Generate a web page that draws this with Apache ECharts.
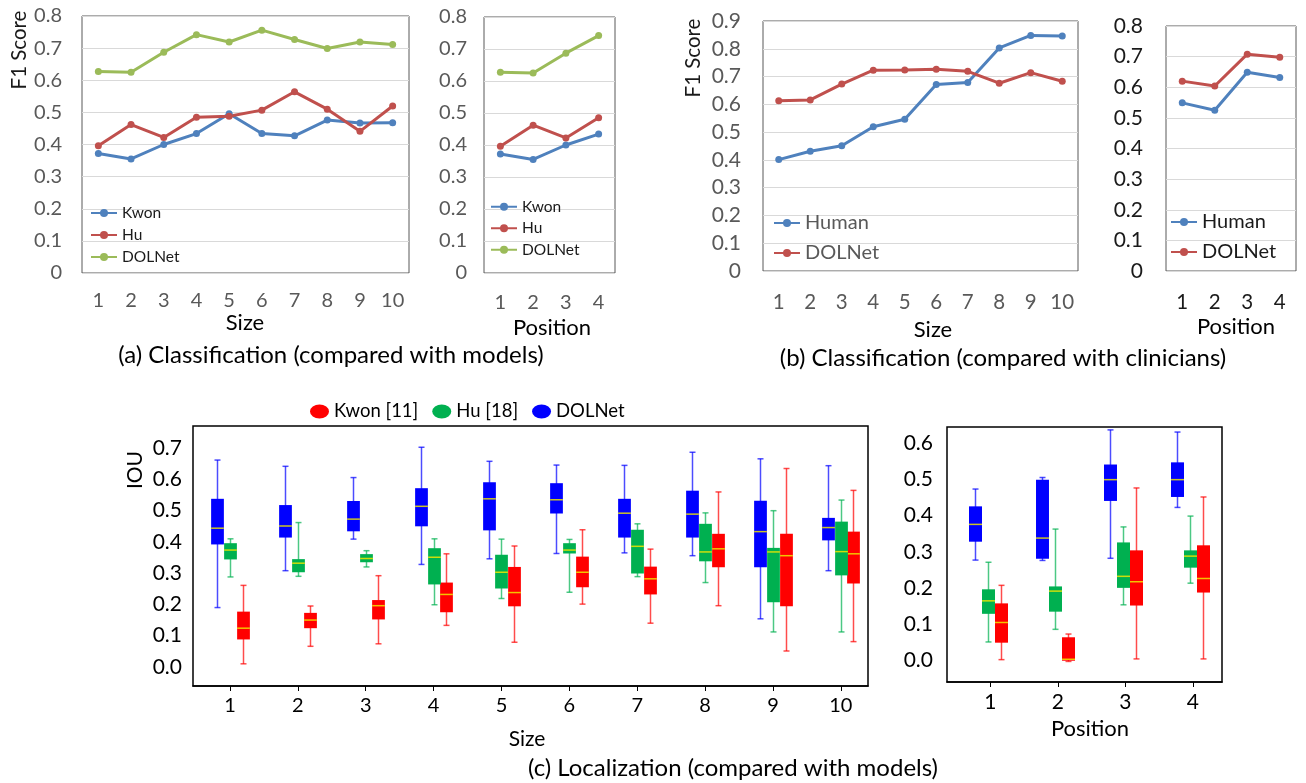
<!DOCTYPE html>
<html>
<head>
<meta charset="utf-8">
<script src="https://cdn.jsdelivr.net/npm/echarts@6/dist/echarts.min.js"></script>
<style>
html,body{margin:0;padding:0;background:#fff;}
#chart{width:1306px;height:783px;}
</style>
</head>
<body>
<div id="chart"></div>
<script>
// ---------- DATA ----------
const sizeCats = ['1','2','3','4','5','6','7','8','9','10'];
const posCats = ['1','2','3','4'];

// (a) Classification vs models - F1
const aSizeKwon   = [0.372,0.355,0.400,0.434,0.496,0.434,0.427,0.476,0.467,0.468];
const aSizeHu     = [0.396,0.462,0.422,0.485,0.488,0.507,0.564,0.510,0.441,0.520];
const aSizeDOLNet = [0.627,0.625,0.687,0.742,0.719,0.756,0.727,0.699,0.719,0.711];
const aPosKwon    = [0.372,0.355,0.400,0.434];
const aPosHu      = [0.396,0.462,0.422,0.485];
const aPosDOLNet  = [0.627,0.625,0.687,0.742];

// (b) Classification vs clinicians - F1
const bSizeHuman  = [0.401,0.431,0.451,0.519,0.546,0.671,0.679,0.803,0.848,0.846];
const bSizeDOLNet = [0.613,0.616,0.673,0.723,0.724,0.726,0.719,0.676,0.714,0.683];
const bPosHuman   = [0.549,0.525,0.649,0.632];
const bPosDOLNet  = [0.620,0.604,0.708,0.698];

// (c) Localization IOU boxes: [lowWhisker, q1, median, q3, highWhisker]
const cSizeDOLNet = [
  [0.190,0.392,0.444,0.538,0.662],[0.308,0.414,0.451,0.518,0.642],[0.409,0.434,0.473,0.531,0.606],
  [0.328,0.450,0.514,0.572,0.703],[0.346,0.437,0.538,0.591,0.658],[0.363,0.491,0.535,0.588,0.646],
  [0.365,0.414,0.492,0.538,0.645],[0.356,0.414,0.489,0.564,0.687],[0.154,0.319,0.433,0.532,0.666],
  [0.308,0.405,0.446,0.477,0.644]];
const cSizeHu = [
  [0.288,0.344,0.374,0.396,0.410],[0.290,0.303,0.332,0.345,0.462],[0.320,0.335,0.347,0.361,0.372],
  [0.199,0.264,0.351,0.380,0.410],[0.219,0.251,0.303,0.359,0.409],[0.239,0.363,0.374,0.396,0.408],
  [0.289,0.299,0.386,0.439,0.458],[0.270,0.338,0.368,0.458,0.493],[0.112,0.207,0.368,0.381,0.500],
  [0.112,0.293,0.369,0.465,0.534]];
const cSizeKwon = [
  [0.010,0.088,0.124,0.177,0.261],[0.066,0.124,0.150,0.173,0.195],[0.074,0.152,0.196,0.214,0.292],
  [0.133,0.175,0.232,0.270,0.362],[0.079,0.194,0.238,0.320,0.387],[0.201,0.255,0.303,0.353,0.439],
  [0.140,0.232,0.282,0.321,0.377],[0.196,0.319,0.378,0.426,0.560],[0.051,0.194,0.356,0.426,0.635],
  [0.081,0.267,0.362,0.433,0.565]];
const cPosDOLNet = [
  [0.277,0.328,0.376,0.426,0.474],[0.276,0.281,0.338,0.500,0.506],
  [0.282,0.441,0.500,0.542,0.638],[0.423,0.452,0.500,0.548,0.632]];
const cPosHu = [
  [0.050,0.128,0.164,0.196,0.271],[0.085,0.134,0.191,0.204,0.363],
  [0.153,0.200,0.232,0.326,0.369],[0.213,0.256,0.288,0.304,0.399]];
const cPosKwon = [
  [0.001,0.048,0.104,0.157,0.207],[-0.004,-0.002,0.002,0.063,0.072],
  [0.003,0.151,0.217,0.304,0.477],[0.003,0.187,0.226,0.318,0.452]];

const iouTicksSize = [0,0.1,0.2,0.3,0.4,0.5,0.6,0.7];
const iouTicksPos = [0,0.1,0.2,0.3,0.4,0.5,0.6];
const sizeTickVals = [1,2,3,4,5,6,7,8,9,10];
const posTickVals = [1,2,3,4];

// ---------- STYLE ----------
const FONT = 'Lato';
const C_BLUE = '#4f81bd', C_RED = '#c0504d', C_GREEN = '#9bbb59';
const B_BLUE = '#0000ff', B_GREEN = '#00b050', B_RED = '#ff0000';

const chart = echarts.init(document.getElementById('chart'));

const strip = n => n.split('#')[0];

function lineSeries(name, data, color, idx) {
  return {
    type: 'line', name: name, data: data, xAxisIndex: idx, yAxisIndex: idx,
    symbol: 'circle', symbolSize: 7, color: color,
    lineStyle: {width: 3, color: color}, itemStyle: {color: color},
    animation: false
  };
}

function boxSeries(name, rows, color, idx, offset, width) {
  return {
    type: 'custom', name: name, xAxisIndex: idx, yAxisIndex: idx,
    itemStyle: {color: color}, animation: false,
    encode: {x: 0, y: [1,2,3,4,5]},
    data: rows.map((r, i) => [i + 1].concat(r)),
    renderItem: function (params, api) {
      const x = api.value(0) + offset;
      const lo = api.coord([x, api.value(1)]);
      const q1 = api.coord([x, api.value(2)]);
      const md = api.coord([x, api.value(3)]);
      const q3 = api.coord([x, api.value(4)]);
      const hi = api.coord([x, api.value(5)]);
      const w = api.size([width, 0])[0];
      const cx = Math.round(lo[0]) + 0.5;
      const cap = 3;
      const ws = {stroke: color, lineWidth: 1.5, opacity: 0.7};
      return {
        type: 'group',
        children: [
          {type: 'line', shape: {x1: cx, y1: lo[1], x2: cx, y2: hi[1]}, style: ws},
          {type: 'line', shape: {x1: cx - cap, y1: lo[1], x2: cx + cap, y2: lo[1]}, style: ws},
          {type: 'line', shape: {x1: cx - cap, y1: hi[1], x2: cx + cap, y2: hi[1]}, style: ws},
          {type: 'rect', shape: {x: cx - w / 2, y: q3[1], width: w, height: Math.max(q1[1] - q3[1], 1)},
           style: {fill: color}},
          {type: 'line', shape: {x1: cx - w / 2, y1: md[1], x2: cx + w / 2, y2: md[1]},
           style: {stroke: 'rgba(240,230,0,0.85)', lineWidth: 1.5}}
        ]
      };
    }
  };
}

function f1Y(idx, max, color, margin, fs) {
  return {
    gridIndex: idx, type: 'value', min: 0, max: max, interval: 0.1,
    axisLine: {show: false}, axisTick: {show: false},
    splitLine: {show: true, lineStyle: {color: '#d9d9d9', width: 1}},
    axisLabel: {color: color, fontSize: fs, fontFamily: FONT, margin: margin,
      formatter: v => (Math.abs(v) < 1e-9 ? '0' : v.toFixed(1))}
  };
}
function catX(idx, data, color, margin, fs) {
  return {
    gridIndex: idx, type: 'category', data: data, boundaryGap: true,
    axisLine: {show: false}, axisTick: {show: false}, splitLine: {show: false},
    axisLabel: {color: color, fontSize: fs, fontFamily: FONT, margin: margin, interval: 0, hideOverlap: false}
  };
}

const textG = (txt, x, y, fs, color, rot) => ({
  type: 'text', x: x, y: y, rotation: rot || 0,
  style: {text: txt, fontSize: fs, fontFamily: FONT, fill: color, align: 'center', verticalAlign: 'middle'}
});

const legendLine = (data, left, top, lh, fs, color) => ({
  data: data, left: left, top: top, orient: 'vertical', itemGap: 0,
  itemWidth: 26, itemHeight: 10, padding: 0,
  formatter: strip,
  textStyle: {fontSize: fs, fontFamily: FONT, color: color, lineHeight: lh, height: lh},
  selectedMode: false
});

const ellipse = 'path://M0,7 A9.5,7 0 1,1 19,7 A9.5,7 0 1,1 0,7 Z';

const option = {
  backgroundColor: '#fff',
  animation: false,
  grid: [
    {left: 82, top: 16, width: 327, height: 257, show: true, borderColor: '#595959', borderWidth: 1},
    {left: 484, top: 17, width: 131, height: 256, show: true, borderColor: '#595959', borderWidth: 1},
    {left: 763, top: 21, width: 315, height: 250, show: true, borderColor: '#595959', borderWidth: 1},
    {left: 1166, top: 26, width: 130, height: 245, show: true, borderColor: '#595959', borderWidth: 1},
    {left: 193, top: 426, width: 675, height: 260, show: true, borderColor: '#000', borderWidth: 1.5},
    {left: 947, top: 427, width: 275, height: 255, show: true, borderColor: '#000', borderWidth: 1.5}
  ],
  xAxis: [
    catX(0, sizeCats, '#595959', 18, 20),
    catX(1, posCats, '#595959', 20, 20),
    catX(2, sizeCats, '#595959', 21, 20.5),
    catX(3, posCats, '#1a1a1a', 21, 20.5),
    {gridIndex: 4, type: 'value', min: 0.455, max: 10.40,
      axisLine: {show: true, onZero: false, lineStyle: {color: '#000', width: 1.5}},
      axisTick: {show: true, length: 5, customValues: sizeTickVals, lineStyle: {color: '#000'}},
      splitLine: {show: false},
      axisLabel: {customValues: sizeTickVals, fontSize: 20, fontFamily: FONT, color: '#000', margin: 10}},
    {gridIndex: 5, type: 'value', min: 0.36, max: 4.43,
      axisLine: {show: true, onZero: false, lineStyle: {color: '#000', width: 1.5}},
      axisTick: {show: true, length: 5, customValues: posTickVals, lineStyle: {color: '#000'}},
      splitLine: {show: false},
      axisLabel: {customValues: posTickVals, fontSize: 21, fontFamily: FONT, color: '#000', margin: 10}}
  ],
  yAxis: [
    f1Y(0, 0.8, '#595959', 20, 20),
    f1Y(1, 0.8, '#595959', 17, 20),
    f1Y(2, 0.9, '#595959', 22, 21),
    f1Y(3, 0.8, '#1a1a1a', 23, 21),
    {gridIndex: 4, type: 'value', min: -0.061, max: 0.771,
      axisLine: {show: false, onZero: false}, axisTick: {show: false}, splitLine: {show: false},
      axisLabel: {customValues: iouTicksSize, fontSize: 21, fontFamily: FONT, color: '#000', margin: 11,
        formatter: v => v.toFixed(1)}},
    {gridIndex: 5, type: 'value', min: -0.061, max: 0.646,
      axisLine: {show: false, onZero: false}, axisTick: {show: false}, splitLine: {show: false},
      axisLabel: {customValues: iouTicksPos, fontSize: 21, fontFamily: FONT, color: '#000', margin: 14,
        formatter: v => v.toFixed(1)}}
  ],
  legend: [
    legendLine(['Kwon','Hu','DOLNet'], 90, 202, 22, 15.5, '#1a1a1a'),
    legendLine(['Kwon','Hu','DOLNet'], 490, 196, 21.5, 15.5, '#1a1a1a'),
    legendLine(['Human','DOLNet#b'], 773, 208, 30, 20, '#595959'),
    legendLine(['Human','DOLNet#b'], 1170, 207, 30, 20, '#1a1a1a'),
    {data: ['Kwon [11]','Hu [18]','DOLNet#c'], left: 310, top: 402, orient: 'horizontal',
      itemGap: 14, itemWidth: 19, itemHeight: 14, padding: 0, icon: ellipse,
      formatter: strip, selectedMode: false,
      textStyle: {fontSize: 18.5, fontFamily: FONT, color: '#000'}}
  ],
  graphic: [
    textG('F1 Score', 19, 50, 20.5, '#1a1a1a', Math.PI / 2),
    textG('Size', 245, 323, 22, '#000'),
    textG('Position', 552, 328, 22, '#000'),
    textG('(a) Classification (compared with models)', 331, 355, 24, '#000'),
    textG('F1 Score', 693, 58, 20.5, '#1a1a1a', Math.PI / 2),
    textG('Size', 933, 330, 22, '#000'),
    textG('Position', 1236, 327, 22, '#000'),
    textG('(b) Classification (compared with clinicians)', 1003, 358, 24, '#000'),
    textG('IOU', 135, 470, 21, '#000', Math.PI / 2),
    textG('Size', 527, 739, 21, '#000'),
    textG('Position', 1090, 729, 22, '#000'),
    textG('(c) Localization (compared with models)', 733, 768, 24, '#000')
  ],
  series: [
    lineSeries('Kwon', aSizeKwon, C_BLUE, 0),
    lineSeries('Hu', aSizeHu, C_RED, 0),
    lineSeries('DOLNet', aSizeDOLNet, C_GREEN, 0),
    lineSeries('Kwon', aPosKwon, C_BLUE, 1),
    lineSeries('Hu', aPosHu, C_RED, 1),
    lineSeries('DOLNet', aPosDOLNet, C_GREEN, 1),
    lineSeries('Human', bSizeHuman, C_BLUE, 2),
    lineSeries('DOLNet#b', bSizeDOLNet, C_RED, 2),
    lineSeries('Human', bPosHuman, C_BLUE, 3),
    lineSeries('DOLNet#b', bPosDOLNet, C_RED, 3),
    boxSeries('Kwon [11]', cSizeKwon, B_RED, 4, 0.185, 0.188),
    boxSeries('Hu [18]', cSizeHu, B_GREEN, 4, 0.0, 0.188),
    boxSeries('DOLNet#c', cSizeDOLNet, B_BLUE, 4, -0.19, 0.188),
    boxSeries('Kwon [11]', cPosKwon, B_RED, 5, 0.155, 0.192),
    boxSeries('Hu [18]', cPosHu, B_GREEN, 5, -0.037, 0.192),
    boxSeries('DOLNet#c', cPosDOLNet, B_BLUE, 5, -0.229, 0.192)
  ]
};
chart.setOption(option);
</script>
</body>
</html>
